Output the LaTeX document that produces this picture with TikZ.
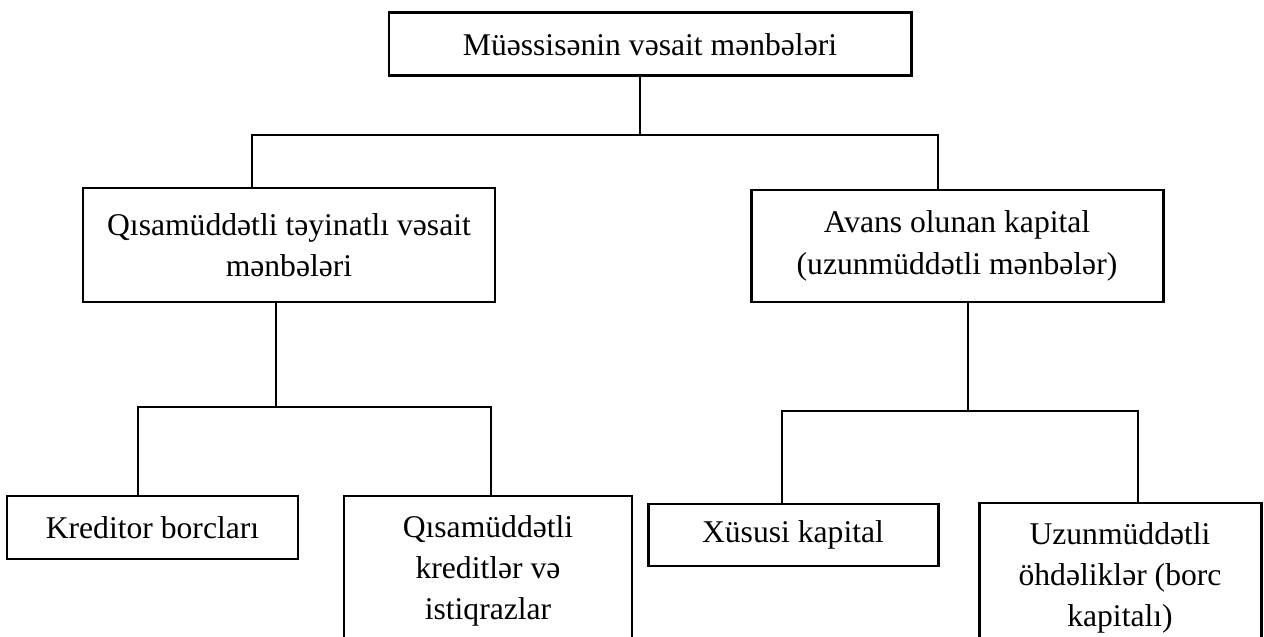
\documentclass[tikz,border=0pt]{standalone}
\usepackage{fontspec}
\setmainfont{Liberation Serif}
\usepackage{tikz}
\usetikzlibrary{positioning, calc}

\begin{document}
\begin{tikzpicture}[align=center, inner sep=0pt,
  font=\fontsize{18}{23.5}\selectfont,
  sq node/.style={rectangle, draw, line width=1.7pt},
  conn/.style={draw, line width=1pt}]
  \useasboundingbox (0,0) rectangle (25.28,-12.74);
  \node[sq node, minimum width=10.44cm, minimum height=1.26cm] (1) at (13.0,-0.89) {Müəssisənin vəsait mənbələri};
  \node[sq node, minimum width=8.24cm, minimum height=2.28cm] (2) at (5.78,-4.9) {Qısamüddətli təyinatlı vəsait \\ mənbələri};
  \node[sq node, minimum width=8.24cm, minimum height=2.24cm] (3) at (19.14,-4.92) {Avans olunan kapital \\ (uzunmüddətli mənbələr)};
  \node[sq node, minimum width=5.82cm, minimum height=1.26cm] (4) at (3.05,-10.55) {Kreditor borcları};
  \node[sq node, minimum width=5.76cm, minimum height=3.0cm] (5) at (9.76,-11.42) {Qısamüddətli \\ kreditlər və \\ istiqrazlar};
  \node[sq node, minimum width=5.8cm, minimum height=1.24cm] (6) at (15.86,-10.7) {Xüsusi kapital};
  \node[sq node, minimum width=5.64cm, minimum height=3.0cm] (7) at (22.4,-11.56) {Uzunmüddətli \\ öhdəliklər (borc \\ kapitalı)};
  % branch points
  \coordinate (j1) at (12.8,-2.7);
  \coordinate (j2) at (5.52,-8.14);
  \coordinate (j3) at (19.36,-8.22);
  \path[conn] (1.south -| j1) -- (j1);
  \path[conn] ([xshift=-0.74cm]2.north) |- (j1) -| ([xshift=-0.38cm]3.north);
  \path[conn] (2.south -| j2) -- (j2);
  \path[conn] ([xshift=-0.29cm]4.north) |- (j2) -| ([xshift=0.06cm]5.north);
  \path[conn] (3.south -| j3) -- (j3);
  \path[conn] ([xshift=-0.22cm]6.north) |- (j3) -| ([xshift=0.36cm]7.north);
\end{tikzpicture}
\end{document}
